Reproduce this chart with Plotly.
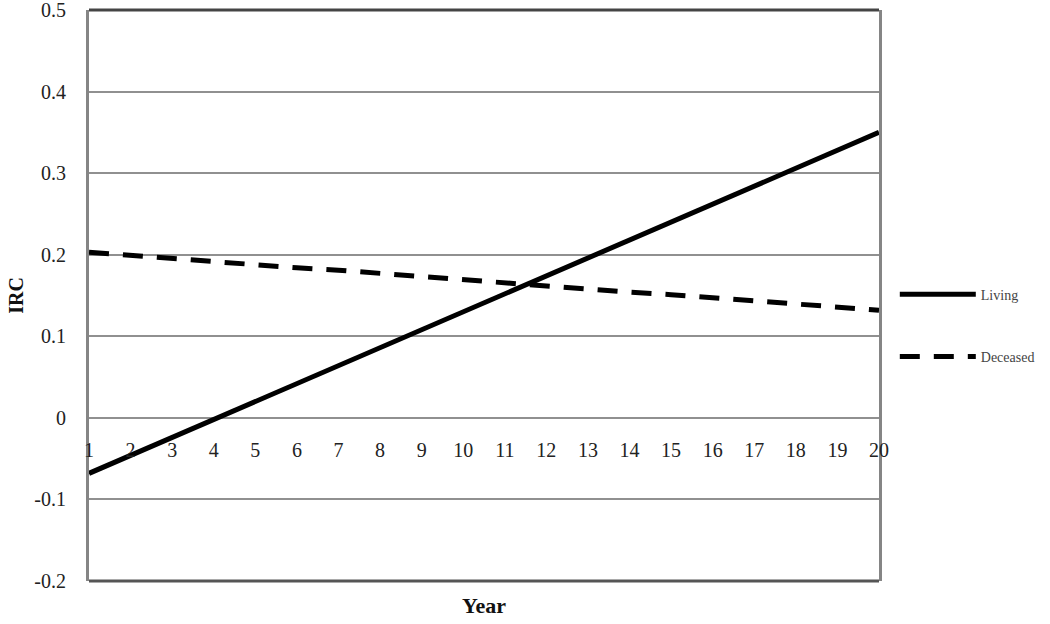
import plotly.graph_objects as go

years = list(range(1, 21))
living = [-0.068, -0.046, -0.024, -0.002, 0.020, 0.042, 0.064, 0.086, 0.108, 0.130,
          0.152, 0.174, 0.196, 0.218, 0.240, 0.262, 0.284, 0.306, 0.328, 0.350]
deceased = [0.203, 0.199, 0.196, 0.192, 0.188, 0.184, 0.181, 0.177, 0.173, 0.169,
            0.166, 0.162, 0.158, 0.154, 0.151, 0.147, 0.143, 0.139, 0.136, 0.132]
y_ticks = [-0.2, -0.1, 0, 0.1, 0.2, 0.3, 0.4, 0.5]
y_tick_labels = ["-0.2", "-0.1", "0", "0.1", "0.2", "0.3", "0.4", "0.5"]

FONT = "Liberation Serif, Times New Roman, serif"

fig = go.Figure()
fig.add_trace(go.Scatter(x=years, y=living, mode="lines", name="Living",
                         legendgroup="a",
                         line=dict(color="black", width=5)))
fig.add_trace(go.Scatter(x=years, y=deceased, mode="lines", name="Deceased",
                         legendgroup="b",
                         line=dict(color="black", width=5, dash="20px,14px")))

zero_frac = (0 - (-0.2)) / (0.5 - (-0.2))

fig.update_layout(
    width=1050, height=624,
    margin=dict(l=89, r=171, t=10, b=43),
    paper_bgcolor="white", plot_bgcolor="white",
    font=dict(family=FONT, color="#222"),
    xaxis=dict(range=[1, 20], tickvals=years, ticktext=[str(v) for v in years],
               anchor="free", position=zero_frac, showline=False, showgrid=False,
               zeroline=False, ticks="", ticklabelstandoff=18, automargin=False,
               ticklabeloverflow="allow",
               tickfont=dict(size=20, family=FONT, color="#222")),
    yaxis=dict(range=[-0.2, 0.5], tickvals=y_ticks, ticktext=y_tick_labels,
               showgrid=True, gridcolor="#909090", gridwidth=2,
               zeroline=False, showline=True, mirror=True,
               linecolor="#858585", linewidth=3, ticks="",
               ticklabelstandoff=16, automargin=False,
               ticklabeloverflow="allow",
               tickfont=dict(size=20, family=FONT, color="#222"),
               title=dict(text="<b>IRC</b>", standoff=6,
                          font=dict(size=20, family=FONT, color="#111"))),
    showlegend=True,
    legend=dict(x=1.02, y=0.447, xanchor="left", yanchor="middle",
                font=dict(size=14, family=FONT, color="#444"),
                tracegroupgap=41, itemwidth=76, bgcolor="rgba(0,0,0,0)"),
    shapes=[dict(type="line", xref="paper", yref="paper", x0=0, x1=1, y0=1, y1=1,
                 line=dict(color="#444", width=3)),
            dict(type="line", xref="paper", yref="paper", x0=0, x1=1, y0=0, y1=0,
                 line=dict(color="#555", width=3))],
    annotations=[dict(text="<b>Year</b>", xref="paper", yref="paper", x=0.5, y=0,
                      xanchor="center", yanchor="top", yshift=-10, showarrow=False,
                      font=dict(size=22, family=FONT, color="#111"))],
)

fig.write_html("out.html",
               config={"displayModeBar": False},
               post_script="document.body.style.margin='0';document.body.style.overflow='hidden';")
